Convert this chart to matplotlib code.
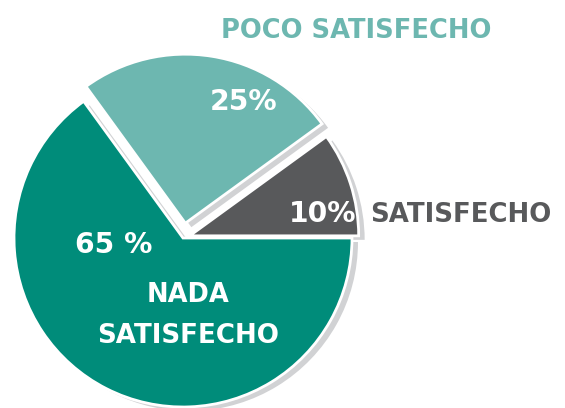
import matplotlib
matplotlib.use("Agg")
import matplotlib.pyplot as plt

categories = ["SATISFECHO", "POCO SATISFECHO", "NADA SATISFECHO"]
values = [10, 25, 65]
pct_labels = ["10%", "25%", "65 %"]
colors = ["#58595B", "#6DB7B0", "#008C7A"]
shadow_color = "#D1D2D4"

W, H = 565, 408
cx, cy, r = 183, H - 238, 169
explode = [7, 15, 0]  # data units (pixels)

fig = plt.figure(figsize=(W / 100, H / 100), dpi=100)
ax = fig.add_axes([0, 0, 1, 1])

# shadow
ax.pie(values, startangle=0, counterclock=True, radius=r, center=(cx + 6, cy - 4),
       explode=explode, colors=[shadow_color] * 3,
       wedgeprops=dict(linewidth=0), frame=True)
# main
ax.pie(values, startangle=0, counterclock=True, radius=r, center=(cx, cy),
       explode=explode, colors=colors,
       wedgeprops=dict(linewidth=2, edgecolor="white"), frame=True)

ax.set_xlim(0, W)
ax.set_ylim(0, H)
ax.set_aspect("equal")
ax.axis("off")

fam = "DejaVu Sans"
def txt(x, y, s, color, size, ha="center"):
    ax.text(x, H - y, s, color=color, fontsize=size, fontweight="bold",
            family=fam, ha=ha, va="baseline")

txt(356, 38, categories[1], colors[1], 18.5)
txt(243.5, 110, pct_labels[1], "white", 20.3)
txt(322.5, 222, pct_labels[0], "white", 20.3)
txt(370, 222, categories[0], colors[0], 18.7, ha="left")
txt(113.5, 253, pct_labels[2], "white", 20.3)
txt(188, 302, "NADA", "white", 18.5)
txt(188.5, 343, "SATISFECHO", "white", 18.8)

fig.savefig("out.png", dpi=100)
